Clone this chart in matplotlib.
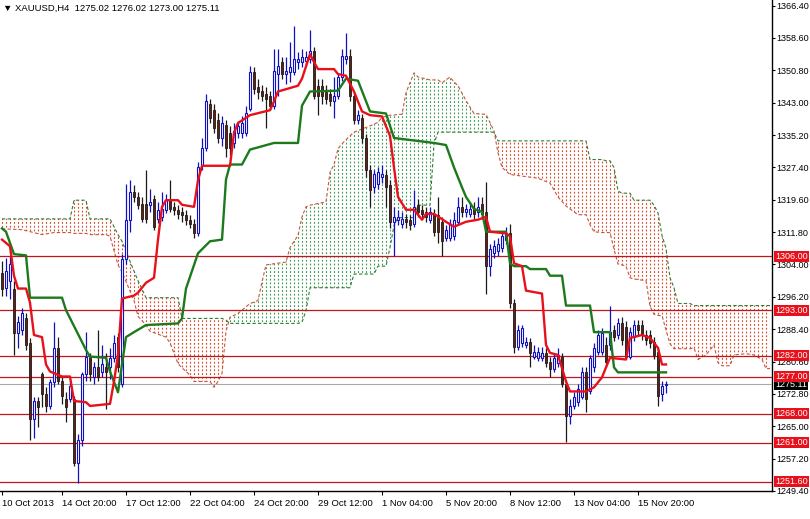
import numpy as np
import matplotlib.pyplot as plt
from matplotlib.path import Path
from matplotlib.patches import PathPatch

# ---- XAUUSD H4 candles (bar index 0 = 10 Oct 2013) ----
opens = [1302.0, 1298.4, 1300.1, 1298.2, 1287.5, 1288.2, 1291.0, 1285.1, 1266.8, 1271.1,
         1277.5, 1272.7, 1269.9, 1275.6, 1283.9, 1275.8, 1271.6, 1271.6, 1271.6, 1256.1,
         1261.6, 1277.5, 1281.8, 1277.0, 1279.4, 1278.2, 1279.4, 1279.4, 1281.5, 1286.5,
         1275.1, 1305.3, 1314.8, 1321.4, 1320.3, 1318.6, 1318.6, 1318.4, 1319.8, 1315.0,
         1315.5, 1317.2, 1319.8, 1317.9, 1317.2, 1316.7, 1316.0, 1314.8, 1313.8, 1311.5,
         1328.1, 1332.1, 1342.8, 1341.2, 1338.8, 1334.5, 1337.6, 1335.7, 1333.3, 1335.7,
         1335.7, 1335.7, 1341.6, 1350.4, 1346.9, 1345.9, 1345.2, 1344.5, 1342.3, 1349.9,
         1352.8, 1349.9, 1350.4, 1350.4, 1352.8, 1352.8, 1353.0, 1353.5, 1355.4, 1347.1,
         1347.1, 1345.7, 1345.2, 1343.3, 1344.7, 1349.2, 1353.5, 1354.2, 1344.5, 1338.8,
         1339.3, 1334.5, 1326.7, 1322.6, 1323.3, 1325.0, 1325.5, 1323.1, 1314.3, 1314.8,
         1313.8, 1315.0, 1314.8, 1313.8, 1318.4, 1317.2, 1316.7, 1314.8, 1316.2, 1316.0,
         1314.3, 1310.3, 1310.3, 1310.8, 1314.3, 1317.9, 1316.7, 1316.2, 1317.4, 1316.7,
         1318.6, 1316.7, 1303.6, 1306.7, 1307.2, 1307.9, 1310.0, 1311.5, 1294.6, 1284.1,
         1285.1, 1284.6, 1285.3, 1281.8, 1281.5, 1281.5, 1282.7, 1280.6, 1278.7, 1280.3,
         1281.8, 1275.1, 1267.5, 1269.9, 1270.8, 1272.0, 1278.2, 1273.5, 1279.2, 1283.0,
         1283.0, 1284.6, 1284.6, 1288.2, 1287.0, 1289.8, 1288.9, 1281.8, 1286.5, 1289.4,
         1289.4, 1287.0, 1287.0, 1285.3, 1283.0, 1272.7, 1275.02]
highs = [1304.8, 1305.5, 1306.0, 1300.1, 1291.7, 1293.4, 1292.2, 1286.3, 1272.0, 1272.0,
         1278.2, 1274.4, 1276.3, 1290.1, 1286.5, 1276.8, 1273.2, 1275.6, 1272.3, 1263.2,
         1278.2, 1287.7, 1282.7, 1280.6, 1288.2, 1284.6, 1282.7, 1283.9, 1287.0, 1287.5,
         1306.5, 1323.3, 1324.3, 1323.1, 1321.4, 1320.3, 1326.9, 1322.2, 1320.7, 1319.1,
         1321.4, 1321.0, 1324.3, 1319.1, 1318.4, 1317.9, 1317.2, 1316.0, 1315.0, 1328.6,
         1334.5, 1345.2, 1344.0, 1342.6, 1340.4, 1339.7, 1338.8, 1337.4, 1338.1, 1338.5,
         1339.7, 1342.1, 1351.8, 1351.6, 1348.8, 1347.3, 1346.9, 1345.9, 1355.9, 1355.9,
         1354.0, 1354.0, 1357.6, 1361.4, 1355.2, 1355.9, 1355.4, 1360.6, 1356.4, 1348.8,
         1348.8, 1347.3, 1346.4, 1349.2, 1350.2, 1355.9, 1359.9, 1355.9, 1345.4, 1341.2,
         1340.2, 1335.5, 1327.9, 1326.9, 1327.4, 1327.9, 1326.9, 1324.3, 1317.9, 1317.2,
         1316.7, 1316.2, 1316.0, 1321.9, 1319.8, 1318.4, 1317.9, 1317.9, 1317.4, 1320.3,
         1315.5, 1313.6, 1315.0, 1316.7, 1320.3, 1320.3, 1318.6, 1319.1, 1319.1, 1320.3,
         1320.3, 1323.8, 1308.9, 1310.0, 1310.3, 1311.7, 1313.1, 1313.8, 1295.8, 1289.4,
         1289.4, 1286.5, 1286.3, 1284.6, 1284.1, 1284.1, 1283.9, 1281.8, 1282.7, 1283.9,
         1282.7, 1276.1, 1271.6, 1273.2, 1275.1, 1279.4, 1279.4, 1282.2, 1285.1, 1288.2,
         1288.7, 1286.5, 1294.1, 1289.4, 1291.0, 1291.3, 1290.3, 1288.9, 1290.6, 1290.6,
         1290.6, 1288.2, 1288.2, 1286.5, 1284.1, 1275.8, 1276.02]
lows = [1296.5, 1296.5, 1295.8, 1282.2, 1283.9, 1287.0, 1283.4, 1261.6, 1262.1, 1264.9,
        1269.7, 1268.5, 1269.2, 1274.4, 1275.1, 1270.4, 1266.1, 1270.8, 1255.4, 1251.4,
        1260.2, 1275.8, 1275.8, 1275.1, 1275.8, 1276.8, 1269.2, 1276.3, 1280.6, 1278.2,
        1274.4, 1304.1, 1311.9, 1319.1, 1317.4, 1314.3, 1314.1, 1316.7, 1312.2, 1314.1,
        1314.6, 1316.5, 1316.7, 1316.0, 1315.0, 1314.3, 1313.6, 1312.7, 1310.3, 1310.8,
        1326.9, 1331.4, 1338.1, 1335.7, 1333.3, 1332.6, 1329.8, 1330.5, 1332.1, 1334.5,
        1334.5, 1335.0, 1340.9, 1345.2, 1344.0, 1343.3, 1336.9, 1341.2, 1341.6, 1344.7,
        1348.8, 1347.6, 1348.0, 1349.7, 1351.1, 1351.6, 1352.1, 1352.6, 1344.0, 1340.0,
        1342.8, 1342.6, 1342.1, 1339.3, 1344.0, 1348.3, 1352.3, 1343.5, 1337.8, 1337.8,
        1333.3, 1325.0, 1317.9, 1321.2, 1322.2, 1323.6, 1317.9, 1312.7, 1306.0, 1313.6,
        1312.7, 1312.7, 1312.2, 1313.1, 1315.5, 1315.0, 1314.3, 1314.1, 1310.8, 1309.1,
        1306.0, 1309.6, 1309.6, 1310.0, 1313.6, 1315.5, 1315.5, 1315.5, 1315.0, 1315.5,
        1315.0, 1297.0, 1301.3, 1305.5, 1306.0, 1307.0, 1308.9, 1293.6, 1282.7, 1283.4,
        1284.1, 1283.9, 1279.2, 1281.1, 1280.8, 1280.8, 1279.4, 1276.8, 1278.0, 1279.4,
        1274.4, 1261.3, 1265.6, 1269.2, 1269.9, 1271.6, 1268.5, 1272.7, 1278.2, 1282.2,
        1282.2, 1279.4, 1283.4, 1285.6, 1286.0, 1284.6, 1281.1, 1281.1, 1285.6, 1287.0,
        1285.8, 1284.6, 1283.9, 1281.1, 1269.9, 1271.1, 1273.00]
closes = [1298.2, 1302.4, 1304.1, 1287.5, 1290.1, 1292.2, 1284.6, 1266.8, 1271.1, 1269.7,
          1272.7, 1269.9, 1275.6, 1283.9, 1275.8, 1272.3, 1269.7, 1274.6, 1256.1, 1261.6,
          1277.5, 1281.8, 1277.5, 1279.4, 1276.8, 1279.9, 1278.2, 1281.5, 1285.1, 1279.4,
          1305.3, 1314.8, 1321.4, 1320.3, 1318.4, 1315.0, 1315.0, 1319.1, 1313.1, 1317.2,
          1317.4, 1319.5, 1317.4, 1317.2, 1316.2, 1316.0, 1314.8, 1313.8, 1311.5, 1327.4,
          1332.1, 1343.3, 1339.3, 1336.9, 1334.5, 1338.1, 1332.1, 1332.1, 1336.2, 1337.4,
          1338.1, 1340.4, 1350.4, 1346.4, 1345.7, 1344.7, 1344.0, 1342.3, 1350.7, 1351.8,
          1349.9, 1350.7, 1351.6, 1353.5, 1353.5, 1354.0, 1354.0, 1355.4, 1344.7, 1344.7,
          1344.5, 1344.0, 1343.5, 1344.7, 1349.2, 1354.2, 1354.2, 1344.5, 1338.8, 1340.0,
          1334.5, 1326.7, 1321.9, 1325.7, 1326.2, 1325.7, 1322.6, 1314.3, 1315.5, 1315.5,
          1315.0, 1314.3, 1313.6, 1317.9, 1316.7, 1316.2, 1315.5, 1316.7, 1311.9, 1311.9,
          1309.6, 1312.4, 1313.8, 1314.8, 1317.9, 1316.7, 1317.4, 1317.4, 1316.2, 1317.9,
          1316.2, 1303.6, 1307.7, 1308.4, 1308.9, 1310.8, 1311.5, 1294.6, 1284.1, 1288.2,
          1288.7, 1285.3, 1282.7, 1283.0, 1283.0, 1282.7, 1280.3, 1278.7, 1281.5, 1282.2,
          1275.1, 1267.5, 1269.9, 1272.0, 1273.9, 1278.2, 1271.6, 1281.5, 1283.9, 1287.0,
          1287.5, 1280.6, 1287.7, 1286.5, 1289.8, 1285.8, 1281.8, 1287.7, 1289.4, 1288.2,
          1287.0, 1285.8, 1285.1, 1282.2, 1272.3, 1274.6, 1275.11]

# ---- Ichimoku lines (bar index, price) ----
tenkan_bar = [0, 2, 3, 4, 6, 7, 8, 10, 11, 12, 15, 17, 18, 21, 22, 27, 28, 29, 30, 33,
              34, 36, 38, 39, 40, 41, 44, 45, 48, 49, 50, 57, 58, 59, 62, 67, 68, 69, 74,
              75, 77, 78, 79, 83, 84, 86, 87, 88, 90, 92, 95, 97, 98, 99, 101, 103, 105,
              106, 108, 111, 113, 116, 119, 121, 122, 126, 127, 128, 130, 131, 135, 136,
              137, 139, 141, 142, 146, 148, 150, 151, 152, 156, 157, 160, 162, 164, 165, 166]
tenkan_val = [1310.0, 1308.4, 1301.3, 1298.2, 1298.2, 1294.8, 1287.0, 1286.5, 1279.9, 1278.2,
              1277.0, 1277.0, 1271.1, 1270.8, 1269.9, 1270.4, 1275.8, 1282.2, 1295.8, 1296.5,
              1297.2, 1299.6, 1300.8, 1310.0, 1317.9, 1319.5, 1319.5, 1318.4, 1317.9, 1324.3,
              1327.8, 1327.8, 1335.7, 1338.1, 1340.0, 1341.2, 1343.3, 1345.7, 1347.1,
              1348.8, 1354.7, 1352.8, 1351.1, 1351.1, 1349.9, 1349.5, 1347.6, 1345.7, 1340.9,
              1340.0, 1339.7, 1335.0, 1327.4, 1320.3, 1317.2, 1317.2, 1314.8,
              1316.2, 1316.2, 1314.3, 1313.1, 1314.3, 1314.8, 1315.5, 1311.9, 1311.5, 1310.8,
              1304.3, 1303.6, 1297.7, 1297.0, 1284.6,
              1282.7, 1282.2, 1275.8, 1273.4, 1273.4, 1274.4, 1276.8, 1279.2, 1281.5, 1281.1,
              1286.3, 1287.0, 1286.3, 1283.9, 1279.9, 1279.9]
kijun_bar = [0, 1, 3, 6, 7, 15, 16, 21, 22, 26, 27, 29, 30, 31, 33, 36, 44, 45, 46, 49, 52,
             55, 56, 57, 60, 62, 68, 74, 75, 77, 84, 86, 89, 92, 96, 98, 108, 111, 113, 115,
             116, 118, 120, 121, 126, 127, 128, 131, 132, 136, 137, 140, 141, 147, 148, 152,
             153, 154, 166]
kijun_val = [1312.7, 1311.9, 1306.5, 1306.2, 1296.0, 1296.0, 1293.0, 1283.4, 1281.8, 1281.5,
             1278.2, 1273.2, 1279.9, 1286.5, 1287.7, 1289.4, 1289.8, 1291.0, 1298.2, 1306.7,
             1309.6, 1310.0, 1324.5, 1328.1, 1328.1, 1331.7, 1333.3, 1333.3, 1342.3, 1345.7,
             1345.9, 1348.8, 1348.3, 1340.9, 1340.4, 1334.5, 1333.3, 1332.8, 1327.4, 1322.6,
             1320.3, 1317.4, 1316.7, 1311.9, 1311.9, 1304.3, 1303.6, 1303.6, 1302.9, 1302.9,
             1301.3, 1301.3, 1294.1, 1294.1, 1287.7, 1287.7, 1279.2, 1278.0, 1278.0]

# ---- Kumo (senkou spans, drawn 26 bars ahead) ----
cloud_bar = [0, 5, 10, 13, 17, 18, 21, 22, 26, 27, 29, 30, 33, 34, 36, 37, 41, 42, 44, 45,
             47, 48, 52, 53, 54, 55, 56, 57, 59, 62, 64, 65, 66, 71, 72, 74, 75, 76, 77, 81,
             82, 83, 84, 85, 87, 88, 93, 94, 95, 96, 97, 98, 99, 100, 101, 103, 104, 107, 108,
             109, 110, 112, 113, 114, 116, 118, 121, 123, 124, 125, 127, 134, 137, 139, 141,
             142, 144, 146, 147, 148, 150, 151, 152, 153, 154, 155, 156, 157, 158, 161, 162,
             163, 164, 165, 166, 167, 168, 169, 172, 173, 174, 176, 177, 178, 179, 180, 182,
             183, 186, 188, 190, 191, 192]
span_a = [1312.6, 1312.4, 1311.2, 1311.7, 1311.7, 1311.5, 1311.5, 1311.2, 1311.2, 1310.8,
          1303.9, 1302.2, 1295.3, 1291.5, 1289.4, 1287.9, 1286.5, 1285.1, 1280.1, 1279.1,
          1277.3, 1275.8, 1275.8, 1274.4, 1275.8, 1277.7, 1287.9, 1291.3, 1292.2, 1294.6,
          1295.3, 1299.8, 1303.9, 1304.6, 1308.1, 1311.0, 1315.5, 1317.9, 1318.3, 1319.1,
          1326.2, 1328.1, 1331.9, 1333.1, 1335.0, 1335.9, 1337.8, 1338.3, 1339.5, 1339.7,
          1340.0, 1340.0, 1340.2, 1340.2, 1345.4, 1350.2, 1349.2, 1348.5, 1348.5,
          1348.5, 1347.8, 1349.2, 1348.0, 1347.1, 1343.5, 1340.4, 1340.2, 1336.2, 1330.9,
          1327.4, 1325.7, 1324.8, 1323.6, 1320.3, 1318.1,
          1317.4, 1316.0, 1316.0, 1313.6, 1311.9, 1311.7, 1311.7, 1311.7, 1307.7, 1304.1,
          1303.9, 1303.6, 1300.8, 1300.5, 1300.1, 1293.9,
          1292.0, 1291.7, 1291.7, 1288.2, 1284.9, 1283.7, 1283.7, 1283.7, 1283.9, 1281.1,
          1282.2, 1283.4, 1284.6, 1280.3, 1279.6, 1279.6,
          1282.2, 1282.5, 1282.2, 1281.1, 1278.9, 1278.9]
span_b = [1315.0, 1315.0, 1315.0, 1315.0, 1315.0, 1319.5, 1319.5, 1315.0, 1315.0, 1315.0,
          1311.2, 1309.6, 1302.4, 1300.1, 1296.0, 1296.0, 1296.0, 1296.0, 1296.0, 1291.0,
          1291.0, 1291.0, 1291.0, 1291.0, 1291.0, 1291.0, 1290.6, 1289.8, 1289.8, 1289.8,
          1289.8, 1289.8, 1289.8, 1289.8, 1289.8, 1289.8, 1290.1, 1292.9, 1298.4, 1298.4,
          1298.4, 1298.4, 1298.4, 1298.4, 1298.4, 1301.7, 1301.7, 1303.6, 1303.6, 1303.6,
          1308.1, 1313.4, 1315.3, 1315.3, 1315.3, 1315.3, 1318.3, 1318.3, 1333.1,
          1335.9, 1335.9, 1335.9, 1335.9, 1335.9, 1335.9, 1335.9, 1335.9, 1335.9, 1333.8,
          1333.8, 1333.8, 1333.8, 1333.8, 1333.8, 1333.8,
          1333.8, 1333.8, 1333.8, 1329.3, 1329.3, 1329.3, 1329.0, 1329.0, 1327.4, 1321.7,
          1321.2, 1321.2, 1321.2, 1319.5, 1319.5, 1319.5,
          1318.3, 1316.4, 1311.0, 1307.9, 1300.8, 1298.4, 1294.6, 1294.6, 1294.1, 1294.1,
          1294.1, 1294.1, 1294.1, 1294.1, 1294.1, 1294.1,
          1294.1, 1294.1, 1294.1, 1294.1, 1294.1, 1294.1]

levels = [1306.00, 1293.00, 1282.00, 1277.00, 1268.00, 1261.00, 1251.60]
bid = 1275.11
price_ticks = [1366.40, 1358.60, 1350.80, 1343.00, 1335.20, 1327.40, 1319.60, 1311.80,
               1304.00, 1296.20, 1288.40, 1280.60, 1272.80, 1265.00, 1257.20, 1249.40]
date_bars = [0, 15, 31, 47, 63, 79, 95, 111, 127, 143, 159]
date_labels = ["10 Oct 2013", "14 Oct 20:00", "17 Oct 12:00", "22 Oct 04:00", "24 Oct 20:00",
               "29 Oct 12:00", "1 Nov 04:00", "5 Nov 20:00", "8 Nov 12:00", "13 Nov 04:00",
               "15 Nov 20:00"]

plt.rcParams['font.family'] = ['Liberation Sans', 'DejaVu Sans']
W, H = 810, 519
fig = plt.figure(figsize=(W / 100, H / 100), dpi=100)
ax = fig.add_axes([0, 28 / H, 772 / W, 491 / H])
ax.set_xlim(-0.5, 192.5)
ax.set_ylim(1251.12, 1367.76)

# cloud: dotted vertical hatch clipped to the area between the spans
ca = np.array(span_a)
cb = np.array(span_b)
ymin, ymax = ax.get_ylim()
cols = np.arange(0, 193)
for mask, col in ((ca >= cb, '#3a9a50'), (cb >= ca, '#d8482a')):
    fb = ax.fill_between(cloud_bar, ca, cb, where=mask, interpolate=True,
                         facecolor='none', edgecolor='none')
    paths = fb.get_paths()
    if not paths:
        continue
    clip = PathPatch(Path.make_compound_path(*paths), transform=ax.transData,
                     facecolor='none', edgecolor='none')
    ax.add_patch(clip)
    vl = ax.vlines(cols, ymin, ymax, colors=col, linewidth=0.8,
                   linestyles=(0, (1.6, 1.8)), zorder=1)
    vl.set_clip_path(clip)
ax.plot(cloud_bar, span_a, color='#c8553d', lw=0.8, ls=(0, (3, 2)), zorder=2)
ax.plot(cloud_bar, span_b, color='#2e7d32', lw=0.8, ls=(0, (3, 2)), zorder=2)

# horizontal levels and bid line
for lv in levels:
    ax.axhline(lv, color='#c0161b', lw=0.9, zorder=3)
ax.axhline(bid, color='#a8a8a8', lw=0.8, zorder=3)

# candles
idx = np.arange(len(closes))
o = np.array(opens)
c = np.array(closes)
hi = np.array(highs)
lo = np.array(lows)
up = c >= o
ax.vlines(idx[up], lo[up], hi[up], color='#1010c0', lw=0.9, zorder=4)
ax.vlines(idx[~up], lo[~up], hi[~up], color='#1a1a1a', lw=0.9, zorder=4)
body_lo = np.minimum(o, c)
body_h = np.maximum(np.abs(c - o), 0.25)
ax.bar(idx[up], body_h[up], bottom=body_lo[up], width=0.7, facecolor='white',
       edgecolor='#1010c0', lw=0.8, zorder=5)
ax.bar(idx[~up], body_h[~up], bottom=body_lo[~up], width=0.7, facecolor='#6a1e12',
       edgecolor='#1a1a1a', lw=0.6, zorder=5)

# tenkan / kijun
ax.plot(kijun_bar, kijun_val, color='#1c7a1c', lw=1.7, zorder=6)
ax.plot(tenkan_bar, tenkan_val, color='#e8101a', lw=1.7, zorder=6)

# axes styling
for s in ('top', 'left'):
    ax.spines[s].set_visible(False)
for s in ('right', 'bottom'):
    ax.spines[s].set_color('black')
    ax.spines[s].set_linewidth(1.0)
ax.yaxis.tick_right()
ax.set_yticks(price_ticks)
ax.set_yticklabels([f"{p:.2f}" for p in price_ticks])
ax.tick_params(axis='y', direction='out', length=2.2, pad=1.2, labelsize=6.5, colors='black')
ax.set_xticks(date_bars)
ax.set_xticklabels(date_labels, ha='left')
ax.tick_params(axis='x', direction='out', length=3, pad=3, labelsize=6.8, colors='black')

# price tags on the right axis
for lv in levels:
    ax.annotate(f"{lv:.2f}", xy=(1.0, lv), xycoords=('axes fraction', 'data'),
                xytext=(2.2, 0), textcoords='offset points', va='center', ha='left',
                fontsize=6.5, color='white', zorder=10, annotation_clip=False,
                bbox=dict(boxstyle='square,pad=0.12', fc='#e8101a', ec='none'))
ax.annotate(f"{bid:.2f}", xy=(1.0, bid), xycoords=('axes fraction', 'data'),
            xytext=(2.2, 0), textcoords='offset points', va='center', ha='left',
            fontsize=6.5, color='white', zorder=9, annotation_clip=False,
            bbox=dict(boxstyle='square,pad=0.12', fc='black', ec='none'))

fig.text(3 / W, 1 - 8 / H, "\u25bc XAUUSD,H4  1275.02 1276.02 1273.00 1275.11",
         fontsize=6.8, va='center', ha='left', color='black')

fig.savefig('out.png', dpi=100)
